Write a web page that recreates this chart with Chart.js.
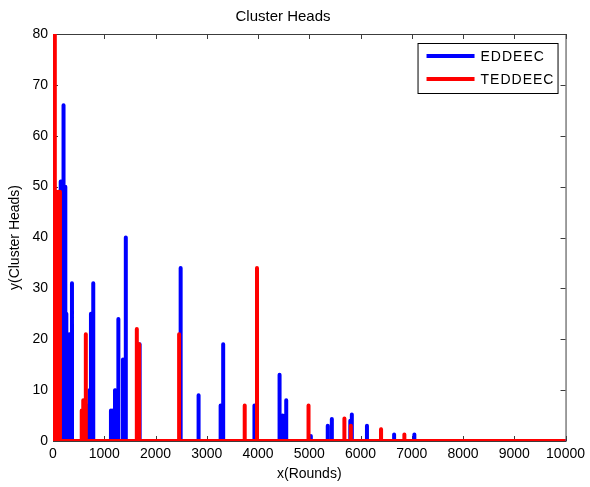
<!DOCTYPE html>
<html>
<head>
<meta charset="utf-8">
<title>Cluster Heads</title>
<script src="https://cdn.jsdelivr.net/npm/chart.js@4/dist/chart.umd.min.js"></script>
<style>
    html, body { margin: 0; padding: 0; background: #fff; }
    #wrap { width: 590px; height: 487px; }
</style>
</head>
<body>
<div id="wrap"><canvas id="chClusterHeads" width="590" height="487"></canvas></div>
<script>
// rounds where cluster heads were elected, and how many
const eddeecRounds = [150, 205, 240, 260, 280, 300, 320, 370, 680, 710, 740, 785, 1130, 1170, 1210, 1275, 1365, 1420, 1690, 2490, 2840, 3270, 3320, 3930, 4420, 4480, 4550, 5030, 5360, 5440, 5800, 5830, 6125, 6655, 7050];
const eddeecHeads  = [51, 66, 50, 25, 11, 11, 21, 31, 7, 10, 25, 31, 6, 6, 10, 24, 16, 40, 19, 34, 9, 7, 19, 7, 13, 5, 8, 1, 3, 4.3, 4, 5.2, 3, 1.3, 1.3];

const teddeecRounds = [0, 35, 70, 105, 135, 560, 590, 640, 1635, 1680, 2460, 3740, 3980, 4985, 5685, 5810, 6400, 6855];
const teddeecHeads  = [77, 80, 49, 49, 49, 6, 8, 21, 22, 19, 21, 7, 34, 7, 4.4, 3, 2.3, 1.3];

const xMax = 10000;
const yMax = 80;

// each election is a one-round spike, the line sits on 0 otherwise
function toSpikes(rounds, heights) {
    const pts = [{ x: 0, y: 0 }];
    rounds.forEach((r, i) => {
        pts.push({ x: r - 1, y: 0 });
        pts.push({ x: r, y: heights[i] });
        pts.push({ x: r + 1, y: 0 });
    });
    pts.push({ x: xMax, y: 0 });
    return pts;
}

const FONT = "'Liberation Sans', Arial, sans-serif";

// MATLAB style box with inward ticks on all four sides
const boxPlugin = {
    id: "boxPlugin",
    beforeDatasetsDraw(chart) {
        const { ctx, chartArea: a, scales } = chart;
        ctx.save();
        ctx.strokeStyle = "#3c3c3c";
        ctx.lineWidth = 1;
        ctx.strokeRect(a.left + 0.5, a.top + 0.5, a.right - a.left, a.bottom - a.top);
        ctx.beginPath();
        scales.x.ticks.forEach(t => {
            const px = Math.round(scales.x.getPixelForValue(t.value)) + 0.5;
            ctx.moveTo(px, a.top);
            ctx.lineTo(px, a.top + 5);
            ctx.moveTo(px, a.bottom);
            ctx.lineTo(px, a.bottom - 5);
        });
        scales.y.ticks.forEach(t => {
            const py = Math.round(scales.y.getPixelForValue(t.value)) + 0.5;
            ctx.moveTo(a.left, py);
            ctx.lineTo(a.left + 5, py);
            ctx.moveTo(a.right, py);
            ctx.lineTo(a.right - 5, py);
        });
        ctx.stroke();
        ctx.restore();
    }
};

const legendPlugin = {
    id: "legendPlugin",
    afterDraw(chart) {
        const { ctx, chartArea: a } = chart;
        const w = 140, h = 50;
        const x0 = a.right - 8 - w;
        const y0 = a.top + 9;
        ctx.save();
        ctx.fillStyle = "#fff";
        ctx.fillRect(x0, y0, w, h);
        ctx.strokeStyle = "#000";
        ctx.lineWidth = 1;
        ctx.strokeRect(x0 + 0.5, y0 + 0.5, w, h);
        chart.data.datasets.forEach((ds, i) => {
            const y = y0 + 13 + i * 23;
            ctx.strokeStyle = ds.borderColor;
            ctx.lineWidth = 4;
            ctx.beginPath();
            ctx.moveTo(x0 + 9, y);
            ctx.lineTo(x0 + 57, y);
            ctx.stroke();
            ctx.fillStyle = "#000";
            ctx.font = "14px " + FONT;
            ctx.textBaseline = "middle";
            ctx.letterSpacing = "1px";
            ctx.fillText(ds.label, x0 + 63, y + 1);
        });
        ctx.restore();
    }
};

Chart.defaults.color = "#000";
Chart.defaults.font.family = FONT;
Chart.defaults.font.size = 14;

const ctx = document.getElementById("chClusterHeads").getContext("2d");

new Chart(ctx, {
    type: "line",
    data: {
        datasets: [
            {
                label: "EDDEEC",
                data: toSpikes(eddeecRounds, eddeecHeads),
                borderColor: "#0000ff",
                borderWidth: 4,
                pointRadius: 0,
                tension: 0,
                borderJoinStyle: "round",
                borderCapStyle: "round",
                order: 2
            },
            {
                label: "TEDDEEC",
                data: toSpikes(teddeecRounds, teddeecHeads),
                borderColor: "#ff0000",
                borderWidth: 4,
                pointRadius: 0,
                tension: 0,
                borderJoinStyle: "round",
                borderCapStyle: "round",
                order: 1
            }
        ]
    },
    options: {
        responsive: false,
        animation: false,
        events: [],
        layout: {
            padding: { left: 0, right: 24, top: 0, bottom: 0 }
        },
        plugins: {
            legend: { display: false },
            tooltip: { enabled: false },
            title: {
                display: true,
                text: "Cluster Heads",
                font: { size: 15, weight: "normal" },
                color: "#000",
                padding: { top: 8, bottom: 8 }
            }
        },
        scales: {
            x: {
                type: "linear",
                min: 0,
                max: xMax,
                grid: { display: false, drawTicks: false },
                border: { display: false },
                ticks: {
                    stepSize: 1000,
                    padding: 5,
                    maxRotation: 0,
                    autoSkip: false,
                    callback: v => String(v)
                },
                title: {
                    display: true,
                    text: "x(Rounds)",
                    padding: { top: 0, bottom: 4 }
                },
                afterFit(scale) {
                    scale.height = 46;
                }
            },
            y: {
                min: 0,
                max: yMax,
                grid: { display: false, drawTicks: false },
                border: { display: false },
                ticks: { stepSize: 10, padding: 5 },
                title: {
                    display: true,
                    text: "y(Cluster Heads)",
                    padding: { top: 7, bottom: 0 }
                },
                afterFit(scale) {
                    scale.width = 53;
                }
            }
        }
    },
    plugins: [boxPlugin, legendPlugin]
});
</script>
</body>
</html>
